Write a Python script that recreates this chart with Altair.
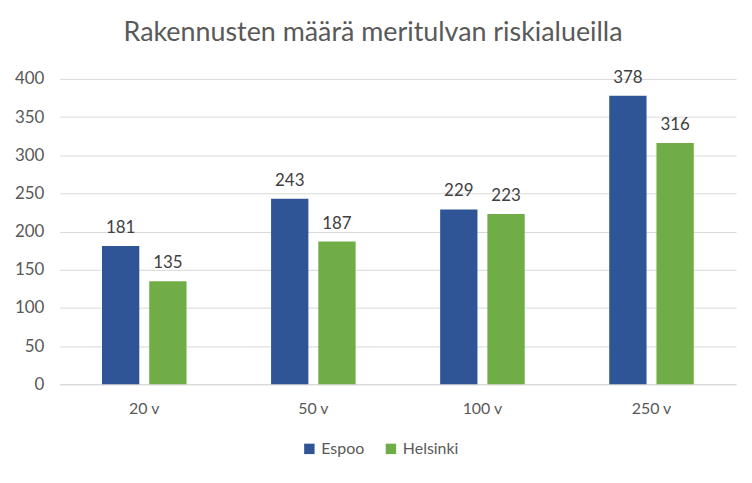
import altair as alt
import pandas as pd

categories = ["20 v", "50 v", "100 v", "250 v"]
series = ["Espoo", "Helsinki"]
espoo = [181, 243, 229, 378]
helsinki = [135, 187, 223, 316]
colors = ["#2F5597", "#70AD47"]

rows = []
for c, e, h in zip(categories, espoo, helsinki):
    rows.append({"cat": c, "series": "Espoo", "value": e})
    rows.append({"cat": c, "series": "Helsinki", "value": h})
df = pd.DataFrame(rows)

FONT = "Lato"

x = alt.X("cat:N", sort=categories, title=None,
          scale=alt.Scale(paddingInner=0.5, paddingOuter=0.25),
          axis=alt.Axis(labelAngle=0, labelFontSize=16, labelColor="#595959", labelFont=FONT,
                        domainColor="#d9d9d9", domainWidth=1, ticks=False, labelPadding=16))
xo = alt.XOffset("series:N", sort=series, scale=alt.Scale(paddingInner=0.21, paddingOuter=0))
y = alt.Y("value:Q", title=None,
          scale=alt.Scale(domain=[0, 400]),
          axis=alt.Axis(values=list(range(0, 401, 50)), labelFontSize=17, labelColor="#595959",
                        labelFont=FONT, domain=False, ticks=False, gridColor="#d9d9d9",
                        labelPadding=16, labelOverlap=False))

base = alt.Chart(df)
bars = base.mark_bar().encode(
    x=x, xOffset=xo, y=y,
    color=alt.Color("series:N", sort=series, scale=alt.Scale(domain=series, range=colors),
                    legend=alt.Legend(title=None, orient="none", direction="horizontal",
                                      legendX=243, legendY=364, symbolType="square", symbolSize=110,
                                      labelFontSize=16, labelColor="#595959", labelFont=FONT,
                                      columnPadding=18, symbolStrokeWidth=0))
)
labels = base.mark_text(baseline="bottom", dy=-9, fontSize=17, color="#404040", font=FONT).encode(
    x=x, xOffset=xo, y=y, text="value:Q"
)

chart = alt.layer(bars, labels).properties(
    width=680, height=307,
    autosize=alt.AutoSizeParams(type="none"),
    padding={"left": 52, "top": 70, "right": 8, "bottom": 90},
    title=alt.Title("Rakennusten määrä meritulvan riskialueilla", fontSize=27, font=FONT,
                    fontWeight="normal", color="#595959", anchor="middle", dx=-25, offset=22),
).configure_view(stroke=None)

chart.save("out.html", embed_options={"renderer": "svg", "actions": False})
